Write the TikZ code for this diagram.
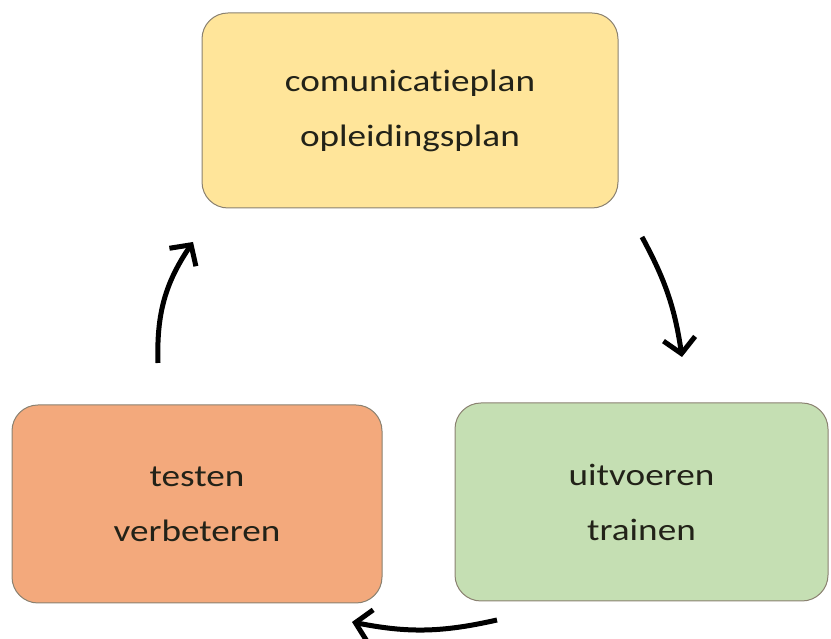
\documentclass[tikz,border=0pt]{standalone}
\usepackage{fontspec}
\setmainfont[FakeStretch=1.2, Ligatures=NoCommon]{Carlito}
\usetikzlibrary{arrows.meta}

\definecolor{geel}{HTML}{FFE59A}
\definecolor{oranje}{HTML}{F3A97C}
\definecolor{groen}{HTML}{C5DFB3}
\definecolor{rand}{HTML}{8A8170}
\definecolor{tekst}{HTML}{222218}

\begin{document}
\begin{tikzpicture}[x=1pt, y=1pt,
    fase/.style = {draw=rand, line width=1pt, rounded corners=26pt, align=center,
                   text=tekst, font=\fontsize{31}{55}\selectfont, inner sep=0pt},
    pijl/.style = {line width=5pt, -{Straight Barb[length=15pt, width=32pt, line width=5pt]}}]

    \useasboundingbox (0,0) rectangle (831,639);

    % De drie fasen
    \node[fase, fill=geel, minimum width=416pt, minimum height=195pt] (plan) at (410,528.5) {comunicatieplan\\opleidingsplan};
    \node[fase, fill=groen, minimum width=373pt, minimum height=198pt] (uitvoeren) at (641.5,137) {uitvoeren\\trainen};
    \node[fase, fill=oranje, minimum width=370pt, minimum height=198pt] (testen) at (197,135) {testen\\verbeteren};

    % Eindpunten van de pijlen
    \coordinate (p1) at (642,402);
    \coordinate (u1) at (682,282);
    \coordinate (u2) at (497,19);
    \coordinate (t1) at (352,17);
    \coordinate (t2) at (158,276);
    \coordinate (p2) at (193,397);

    % De cyclus
    \draw[pijl] (p1) to[bend left=10] (u1);
    \draw[pijl] (u2) to[bend left=12] (t1);
    \draw[pijl] (t2) to[bend left=18] (p2);

\end{tikzpicture}
\end{document}
